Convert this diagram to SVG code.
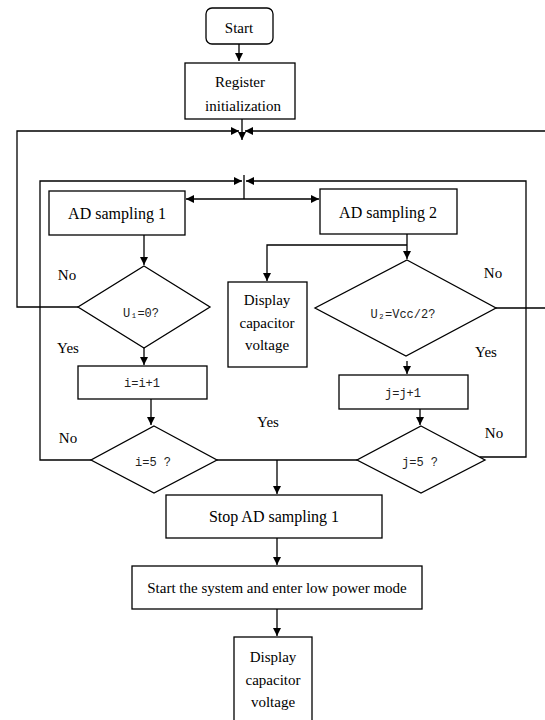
<svg xmlns="http://www.w3.org/2000/svg" width="545" height="720" viewBox="0 0 545 720">
<style>
.b{fill:#fff;stroke:#000;stroke-width:1.3}
.c{fill:none;stroke:#000;stroke-width:1.3}
.t{font-family:"Liberation Serif","Times New Roman",serif;font-size:15px;fill:#000;text-anchor:middle}
.t16{font-size:16px}
.m{font-family:"Liberation Mono","Courier New",monospace;font-size:12px;fill:#222;text-anchor:middle}
</style>
<defs>
<marker id="ah" viewBox="0 0 10 10" refX="10" refY="5" markerWidth="9" markerHeight="8" markerUnits="userSpaceOnUse" orient="auto"><path d="M0,0 L10,5 L0,10 z" fill="#000"/></marker>
</defs>
<rect width="545" height="720" fill="#fff"/>
<g id="connectors">
<path class="c" d="M239,44 V61" marker-end="url(#ah)"/>
<path class="c" d="M242,119 V140" marker-end="url(#ah)"/>
<path class="c" d="M78,307 H17 V131 H239" marker-end="url(#ah)"/>
<path class="c" d="M496,308 H546 V131 H245" marker-end="url(#ah)"/>
<path class="c" d="M91,460 H40 V181 H242" marker-end="url(#ah)"/>
<path class="c" d="M479.5,457 H526 V181 H246" marker-end="url(#ah)"/>
<path class="c" d="M244,175 V199"/>
<path class="c" d="M244,199 H186" marker-end="url(#ah)"/>
<path class="c" d="M244,199 H319" marker-end="url(#ah)"/>
<path class="c" d="M144,235 V265" marker-end="url(#ah)"/>
<path class="c" d="M407,234 V259" marker-end="url(#ah)"/>
<path class="c" d="M407,245 H267 V281" marker-end="url(#ah)"/>
<path class="c" d="M144,348 V365" marker-end="url(#ah)"/>
<path class="c" d="M407,361 V374" marker-end="url(#ah)"/>
<path class="c" d="M151,399 V425" marker-end="url(#ah)"/>
<path class="c" d="M420,409 V425" marker-end="url(#ah)"/>
<path class="c" d="M217,460 H357"/>
<path class="c" d="M277,460 V494" marker-end="url(#ah)"/>
<path class="c" d="M277,538 V565" marker-end="url(#ah)"/>
<path class="c" d="M277,609 V636" marker-end="url(#ah)"/>
</g>
<g id="start"><rect class="b" x="206" y="8" width="67" height="36" rx="6"/><text class="t" x="239" y="33">Start</text></g>
<g id="register"><rect class="b" x="185" y="63" width="110" height="56"/><text class="t" x="240" y="87">Register</text><text class="t" x="243" y="111">initialization</text></g>
<g id="ad1"><rect class="b" x="49" y="191" width="136" height="44"/><text class="t t16" x="117" y="219">AD sampling 1</text></g>
<g id="ad2"><rect class="b" x="320" y="189" width="137" height="45"/><text class="t t16" x="388" y="218">AD sampling 2</text></g>
<g id="display1"><rect class="b" x="228" y="282" width="79" height="85"/><text class="t" x="267" y="305">Display</text><text class="t" x="267" y="328">capacitor</text><text class="t" x="267" y="350">voltage</text></g>
<g id="u1"><polygon class="b" points="144,266 210,307 144,348 78,307"/><text class="m" x="141" y="317">U₁=0?</text></g>
<g id="u2"><polygon class="b" points="407,260 496,308 406,356 315,308"/><text class="m" x="403" y="318">U₂=Vcc/2?</text></g>
<g id="iinc"><rect class="b" x="78" y="366" width="129" height="33"/><text class="m" x="142" y="387">i=i+1</text></g>
<g id="jinc"><rect class="b" x="339" y="375" width="129" height="34"/><text class="m" x="403" y="397">j=j+1</text></g>
<g id="i5"><polygon class="b" points="154,426 217,460 154,493 91,460"/><text class="m" x="153" y="466">i=5 ?</text></g>
<g id="j5"><polygon class="b" points="421,426 485,460 421,493 357,460"/><text class="m" x="420" y="466">j=5 ?</text></g>
<g id="labels">
<text class="t" x="67" y="280">No</text>
<text class="t" x="68" y="353">Yes</text>
<text class="t" x="68" y="443">No</text>
<text class="t" x="268" y="427">Yes</text>
<text class="t" x="493" y="278">No</text>
<text class="t" x="486" y="357">Yes</text>
<text class="t" x="494" y="438">No</text>
</g>
<g id="stop"><rect class="b" x="166" y="495" width="216" height="43"/><text class="t t16" x="274" y="522">Stop AD sampling 1</text></g>
<g id="lowpower"><rect class="b" x="132" y="566" width="290" height="43"/><text class="t" x="277" y="593">Start the system and enter low power mode</text></g>
<g id="display2"><rect class="b" x="234" y="637" width="78" height="90"/><text class="t" x="273" y="662">Display</text><text class="t" x="273" y="685">capacitor</text><text class="t" x="273" y="707">voltage</text></g>
</svg>
